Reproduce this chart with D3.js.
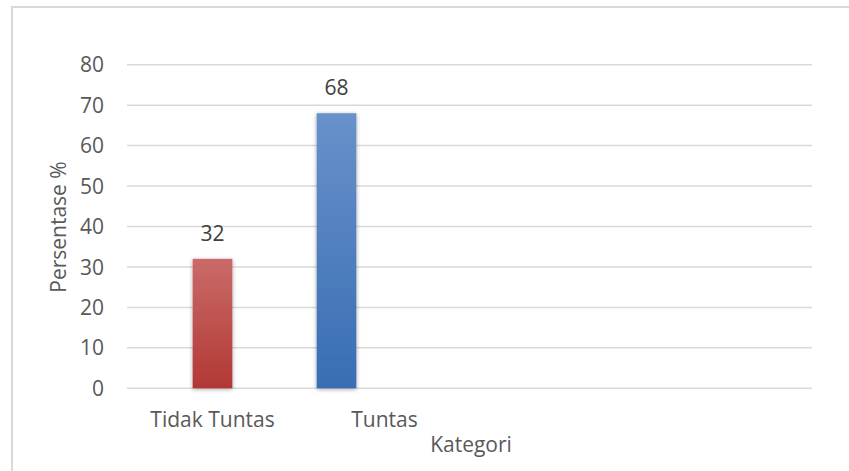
<!DOCTYPE html>
<html>
<head>
<meta charset="utf-8">
<script src="https://cdn.jsdelivr.net/npm/d3@7"></script>
<style>
  html, body { margin: 0; padding: 0; background: #fff; }
  svg { display: block; }
  text { font-family: "Open Sans", "DejaVu Sans", sans-serif; }
</style>
</head>
<body>
<script>
const categories = ["Tidak Tuntas", "Tuntas"];
const values = [32, 68];
const yTicks = [0, 10, 20, 30, 40, 50, 60, 70, 80];
const xTitle = "Kategori";
const yTitle = "Persentase %";

const W = 849, H = 471;
const FS = 21;
const svg = d3.select("body").append("svg").attr("width", W).attr("height", H);

// outer chart border
svg.append("rect").attr("x", 12).attr("y", 7).attr("width", W).attr("height", H)
  .attr("fill", "#fff").attr("stroke", "#d9d9d9").attr("stroke-width", 2);

const defs = svg.append("defs");
const gradDefs = [
  {id: "gRed", top: "#c96b69", bottom: "#b23834"},
  {id: "gBlue", top: "#6891ca", bottom: "#396db3"}
];
gradDefs.forEach(g => {
  const lg = defs.append("linearGradient").attr("id", g.id)
    .attr("x1", 0).attr("y1", 0).attr("x2", 0).attr("y2", 1);
  lg.append("stop").attr("offset", "0%").attr("stop-color", g.top);
  lg.append("stop").attr("offset", "100%").attr("stop-color", g.bottom);
});
const f = defs.append("filter").attr("id", "shadow")
  .attr("x", "-30%").attr("y", "-10%").attr("width", "160%").attr("height", "120%");
f.append("feDropShadow").attr("dx", 0).attr("dy", 1).attr("stdDeviation", 2)
  .attr("flood-color", "#000").attr("flood-opacity", 0.35);

const plotLeft = 127, plotRight = 812;
const y = d3.scaleLinear().domain([0, 80]).range([388.3, 64.7]);
const x = d3.scaleBand().domain(categories).range([150.5, 398.5])
  .paddingInner(0.68).paddingOuter(0.34);

// gridlines
svg.append("g").selectAll("line").data(yTicks).join("line")
  .attr("x1", plotLeft).attr("x2", plotRight)
  .attr("y1", d => y(d)).attr("y2", d => y(d))
  .attr("stroke", "#d9d9d9").attr("stroke-width", 1.5);

// y axis tick labels
svg.append("g").selectAll("text").data(yTicks).join("text")
  .attr("x", 104).attr("y", d => y(d)).attr("dy", "0.36em")
  .attr("text-anchor", "end").attr("font-size", FS).attr("fill", "#595959")
  .text(d => d);

// bars
const colors = ["url(#gRed)", "url(#gBlue)"];
svg.append("g").selectAll("rect").data(values).join("rect")
  .attr("x", (d, i) => x(categories[i]))
  .attr("width", x.bandwidth())
  .attr("y", d => y(d))
  .attr("height", d => y(0) - y(d))
  .attr("fill", (d, i) => colors[i])
  .attr("filter", "url(#shadow)");

// value labels
svg.append("g").selectAll("text").data(values).join("text")
  .attr("x", (d, i) => x(categories[i]) + x.bandwidth() / 2)
  .attr("y", d => y(d) - 18)
  .attr("text-anchor", "middle").attr("font-size", FS).attr("fill", "#404040")
  .text(d => d);

// category labels (second label sits offset to the right in the original)
const labelShift = [0, 48];
svg.append("g").selectAll("text").data(categories).join("text")
  .attr("x", (d, i) => x(d) + x.bandwidth() / 2 + labelShift[i])
  .attr("y", 427)
  .attr("text-anchor", "middle").attr("font-size", FS).attr("fill", "#595959")
  .text(d => d);

// axis titles
svg.append("text").attr("x", 471).attr("y", 452)
  .attr("text-anchor", "middle").attr("font-size", FS).attr("fill", "#595959")
  .text(xTitle);
svg.append("text")
  .attr("transform", "translate(66,227) rotate(-90)")
  .attr("text-anchor", "middle").attr("font-size", FS).attr("fill", "#595959")
  .text(yTitle);
</script>
</body>
</html>
